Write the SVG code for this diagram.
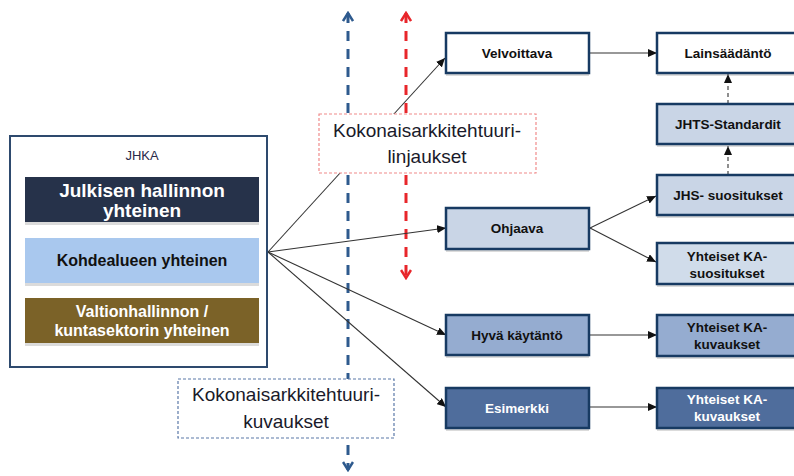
<svg xmlns="http://www.w3.org/2000/svg" width="794" height="476" viewBox="0 0 794 476">
<defs>
<marker id="tri" markerUnits="userSpaceOnUse" markerWidth="9" markerHeight="8" viewBox="0 0 9 8" refX="9" refY="4" orient="auto">
<path d="M0,0 L9,4 L0,8 Z" fill="#111"/>
</marker>
<marker id="chevB" markerUnits="userSpaceOnUse" markerWidth="12" markerHeight="12" viewBox="0 0 12 12" refX="10" refY="6" orient="auto-start-reverse">
<path d="M2,1 L10,6 L2,11" fill="none" stroke="#2e5a8e" stroke-width="2.5"/>
</marker>
<marker id="chevR" markerUnits="userSpaceOnUse" markerWidth="12" markerHeight="12" viewBox="0 0 12 12" refX="10" refY="6" orient="auto-start-reverse">
<path d="M2,1 L10,6 L2,11" fill="none" stroke="#e8262b" stroke-width="2.5"/>
</marker>
</defs>
<style>
.box{stroke:#173a62;stroke-width:2.5}
.shadow{fill:#999;opacity:0.35}
.lbl{font-family:"Liberation Sans",Arial,sans-serif;font-weight:bold;font-size:13.5px;text-anchor:middle;fill:#111}
.lblw{fill:#fff}
.big{font-family:"Liberation Sans",Arial,sans-serif;font-size:19px;text-anchor:middle;fill:#1a1a2a}
.conn{stroke:#333;stroke-width:1.1;fill:none;marker-end:url(#tri)}
.dconn{stroke:#333;stroke-width:1.1;fill:none;stroke-dasharray:4 3;marker-end:url(#tri)}
.jh{font-family:"Liberation Sans",Arial,sans-serif;font-weight:bold;text-anchor:middle}
</style>
<rect width="794" height="476" fill="#fff"/>

<g id="vertical-lines">
<line x1="348" y1="13" x2="348" y2="470" stroke="#2e5a8e" stroke-width="3" stroke-dasharray="10 8" marker-start="url(#chevB)" marker-end="url(#chevB)"/>
<line x1="406" y1="13" x2="406" y2="278" stroke="#e8262b" stroke-width="3" stroke-dasharray="10 8" marker-start="url(#chevR)" marker-end="url(#chevR)"/>
</g>

<g id="connectors">
<line class="conn" x1="268" y1="252" x2="445" y2="58"/>
<line class="conn" x1="268" y1="252" x2="446" y2="228"/>
<line class="conn" x1="268" y1="252" x2="446" y2="335"/>
<line class="conn" x1="268" y1="252" x2="446" y2="407"/>
<line class="conn" x1="589" y1="53" x2="657" y2="53"/>
<line class="conn" x1="590" y1="228" x2="656" y2="196"/>
<line class="conn" x1="590" y1="228" x2="656" y2="262"/>
<line class="dconn" x1="728" y1="175" x2="728" y2="146"/>
<line class="dconn" x1="728" y1="104" x2="728" y2="74"/>
<line class="conn" x1="589" y1="335" x2="657" y2="335"/>
<line class="conn" x1="589" y1="407" x2="657" y2="407"/>
</g>

<g id="jhka">
<rect x="10" y="136" width="257" height="231" fill="#fff" stroke="#2e4a6e" stroke-width="2"/>
<text x="142" y="160" font-family="Liberation Sans,Arial,sans-serif" font-size="13" text-anchor="middle" fill="#2a2a4a">JHKA</text>
</g>
<g id="julkisen">
<rect class="shadow" x="25" y="180" width="234" height="45"/>
<rect x="25" y="177" width="234" height="45" fill="#26324a"/>
<text class="jh" x="142" y="197" font-size="19" fill="#fff">Julkisen hallinnon</text>
<text class="jh" x="142" y="217" font-size="19" fill="#fff">yhteinen</text>
</g>
<g id="kohdealue">
<rect class="shadow" x="25" y="241" width="234" height="45"/>
<rect x="25" y="238" width="234" height="45" fill="#a9c8ee"/>
<text class="jh" x="142" y="266" font-size="16" fill="#111">Kohdealueen yhteinen</text>
</g>
<g id="valtionhallinto">
<rect class="shadow" x="25" y="301" width="234" height="45"/>
<rect x="25" y="298" width="234" height="45" fill="#7b6228"/>
<text class="jh" x="142" y="317" font-size="16" fill="#fff">Valtionhallinnon /</text>
<text class="jh" x="142" y="336" font-size="16" fill="#fff">kuntasektorin yhteinen</text>
</g>

<g id="linjaukset">
<rect x="319" y="114" width="217" height="59" fill="#fff" stroke="#f08a8a" stroke-width="1.2" stroke-dasharray="3 2"/>
<text class="big" x="427" y="137">Kokonaisarkkitehtuuri-</text>
<text class="big" x="427" y="163">linjaukset</text>
</g>
<g id="kuvaukset">
<rect x="178" y="379" width="216" height="59" fill="#fff" stroke="#5a78a8" stroke-width="1.2" stroke-dasharray="3 2"/>
<text class="big" x="286" y="401">Kokonaisarkkitehtuuri-</text>
<text class="big" x="286" y="428">kuvaukset</text>
</g>

<g id="velvoittava">
<rect class="shadow" x="446" y="36" width="143" height="40"/>
<rect class="box" x="446" y="33" width="143" height="40" fill="#fff"/>
<text class="lbl" x="517" y="58">Velvoittava</text>
</g>
<g id="ohjaava">
<rect class="shadow" x="446" y="211" width="143" height="41"/>
<rect class="box" x="446" y="208" width="143" height="41" fill="#c9d5e6"/>
<text class="lbl" x="517" y="233">Ohjaava</text>
</g>
<g id="hyva">
<rect class="shadow" x="446" y="318" width="143" height="40"/>
<rect class="box" x="446" y="315" width="143" height="40" fill="#95acd0"/>
<text class="lbl" x="517" y="340">Hyvä käytäntö</text>
</g>
<g id="esimerkki">
<rect class="shadow" x="446" y="391" width="143" height="40"/>
<rect class="box" x="446" y="388" width="143" height="40" fill="#4f6d9c"/>
<text class="lbl lblw" x="517" y="413">Esimerkki</text>
</g>

<g id="lainsaadanto">
<rect class="shadow" x="657" y="36" width="143" height="40"/>
<rect class="box" x="657" y="33" width="143" height="40" fill="#fff"/>
<text class="lbl" x="728" y="58">Lainsäädäntö</text>
</g>
<g id="jhts">
<rect class="shadow" x="657" y="107" width="143" height="40"/>
<rect class="box" x="657" y="104" width="143" height="40" fill="#c9d5e6"/>
<text class="lbl" x="728" y="129">JHTS-Standardit</text>
</g>
<g id="jhs">
<rect class="shadow" x="657" y="178" width="143" height="40"/>
<rect class="box" x="657" y="175" width="143" height="40" fill="#c9d5e6"/>
<text class="lbl" x="728" y="200">JHS- suositukset</text>
</g>
<g id="ka-suositukset">
<rect class="shadow" x="657" y="246" width="143" height="41"/>
<rect class="box" x="657" y="243" width="143" height="41" fill="#d0dcea"/>
<text class="lbl" x="727" y="261">Yhteiset KA-</text>
<text class="lbl" x="727" y="278">suositukset</text>
</g>
<g id="ka-kuvaukset-1">
<rect class="shadow" x="657" y="318" width="143" height="41"/>
<rect class="box" x="657" y="315" width="143" height="41" fill="#95acd0"/>
<text class="lbl" x="727" y="332">Yhteiset KA-</text>
<text class="lbl" x="727" y="349">kuvaukset</text>
</g>
<g id="ka-kuvaukset-2">
<rect class="shadow" x="657" y="391" width="143" height="40"/>
<rect class="box" x="657" y="388" width="143" height="40" fill="#4f6d9c"/>
<text class="lbl lblw" x="727" y="404">Yhteiset KA-</text>
<text class="lbl lblw" x="727" y="421">kuvaukset</text>
</g>
</svg>
